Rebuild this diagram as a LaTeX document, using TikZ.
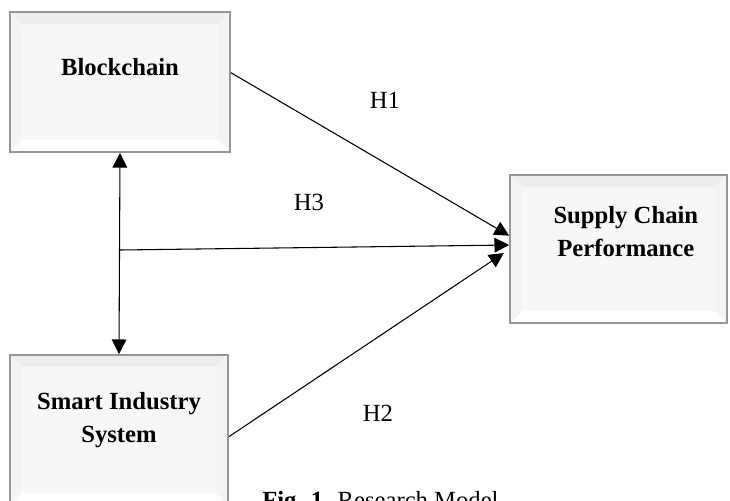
\documentclass[tikz,border=0pt]{standalone}
\usepackage{fontspec}
\setmainfont{Liberation Serif}
\usepackage{tikz}
\usetikzlibrary{arrows.meta,positioning}
\definecolor{boxface}{RGB}{247,247,249}
\definecolor{boxedge}{RGB}{150,150,152}

\tikzset{
  varbox/.style={draw=boxedge, line width=1.3pt, fill=boxface, inner sep=0pt,
    path picture={
      % top bevel
      \fill[gray!14] (path picture bounding box.north west) -- (path picture bounding box.north east)
        -- ([xshift=-9pt,yshift=-9pt]path picture bounding box.north east)
        -- ([xshift=9pt,yshift=-9pt]path picture bounding box.north west) -- cycle;
      % bottom bevel
      \fill[white] (path picture bounding box.south west) -- (path picture bounding box.south east)
        -- ([xshift=-9pt,yshift=9pt]path picture bounding box.south east)
        -- ([xshift=9pt,yshift=9pt]path picture bounding box.south west) -- cycle;
      % side bevels
      \fill[gray!9] (path picture bounding box.north west) -- ([xshift=9pt,yshift=-9pt]path picture bounding box.north west)
        -- ([xshift=9pt,yshift=9pt]path picture bounding box.south west) -- (path picture bounding box.south west) -- cycle;
      \fill[gray!9] (path picture bounding box.north east) -- ([xshift=-9pt,yshift=-9pt]path picture bounding box.north east)
        -- ([xshift=-9pt,yshift=9pt]path picture bounding box.south east) -- (path picture bounding box.south east) -- cycle;
    }},
  vartitle/.style={inner sep=0pt, align=center, font=\bfseries\fontsize{18.5}{24.75}\selectfont},
  hyplabel/.style={inner sep=0pt, font=\fontsize{18.5}{22}\selectfont},
  link/.style={line width=0.8pt, -{Triangle[length=11pt,width=11pt]}},
  dlink/.style={line width=0.8pt, {Triangle[length=11pt,width=11pt]}-{Triangle[length=11pt,width=11pt]}}
}

\begin{document}
\begin{tikzpicture}[x=0.75pt,y=0.75pt,yscale=-1,xscale=1]
\useasboundingbox (0,0) rectangle (730,500);

%Boxes
\node [varbox, minimum width=165pt, minimum height=105pt] (bc) at (120,82) {};
\node [varbox, minimum width=162.75pt, minimum height=111pt] (scp) at (618.5,249) {};
\node [varbox, minimum width=163.5pt, minimum height=112.5pt] (sis) at (119,430) {};

% Titles
\node [vartitle, below=35pt of bc.north] (bctext) {Blockchain};
\node [vartitle, below=24pt of scp.north, xshift=5.5pt] (scptext) {Supply Chain\\Performance};
\node [vartitle, below=28.5pt of sis.north] (sistext) {Smart Industry\\System};

% Connectors (yscale=-1: negative yshift goes up)
\coordinate (mid) at (120,250);
\draw [dlink] (bc.south) -- (sis.north);
\draw [link] ([yshift=-7pt]bc.east) -- ([yshift=-10pt]scp.west);
\draw [link] (mid) -- ([yshift=-3pt]scp.west);
\draw [link] ([yshift=5pt]sis.east) -- ([xshift=-4pt,yshift=3pt]scp.west);

% Text Node
\node [hyplabel] (h1) at (385,100) {H1};
\node [hyplabel] (h3) at (309,202) {H3};
\node [hyplabel] (h2) at (378,413) {H2};
% Caption
\node [anchor=north west, inner sep=0pt, font=\fontsize{18.5}{22}\selectfont] (cap) at (262,491) {\textbf{Fig. 1.} Research Model};

\end{tikzpicture}
\end{document}
